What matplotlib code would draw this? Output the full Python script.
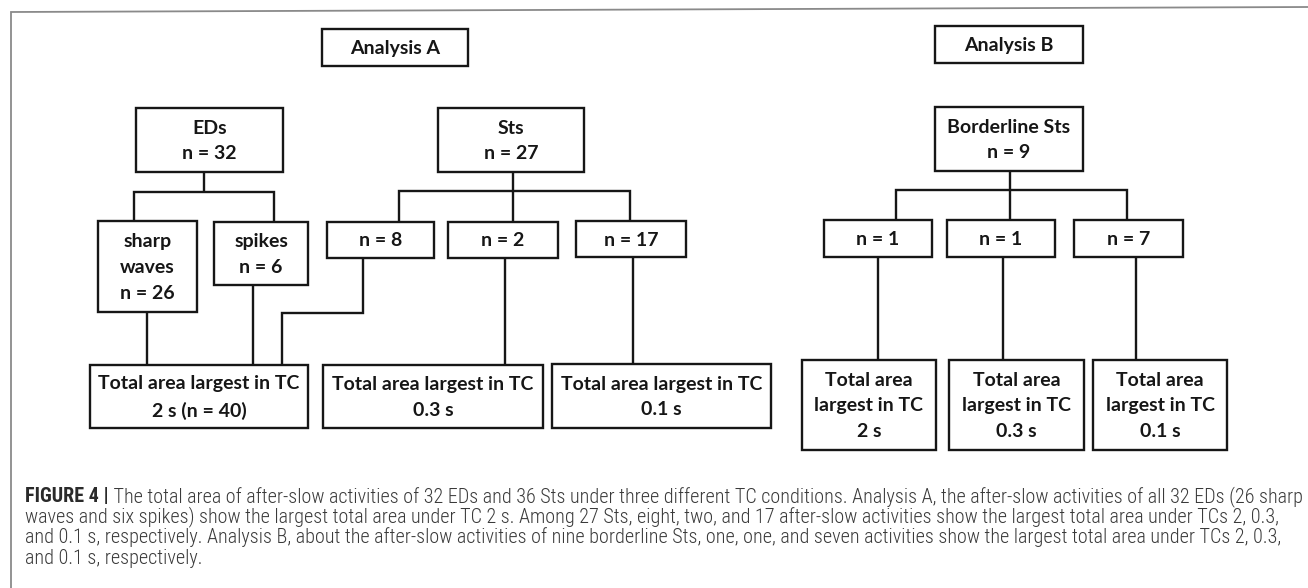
"""Diagramma di flusso: area totale delle attività after-slow (Analysis A / Analysis B)."""

import matplotlib
matplotlib.use("Agg")
import matplotlib.pyplot as plt
from matplotlib import font_manager
from matplotlib.patches import Rectangle

W, H = 1308, 588

# --- testi dei riquadri ---
titoli = ["Analysis A", "Analysis B"]
gruppi = ["EDs\nn = 32", "Sts\nn = 27", "Borderline Sts\nn = 9"]
sotto_eds = ["sharp\nwaves\nn = 26", "spikes\nn = 6"]
sotto_sts = ["n = 8", "n = 2", "n = 17"]
sotto_bord = ["n = 1", "n = 1", "n = 7"]
esiti_a = ["Total area largest in TC\n2 s (n = 40)", "Total area largest in TC\n0.3 s",
           "Total area largest in TC\n0.1 s"]
esiti_b = ["Total area\nlargest in TC\n2 s", "Total area\nlargest in TC\n0.3 s",
           "Total area\nlargest in TC\n0.1 s"]

didascalia_tag = "FIGURE 4 |"
didascalia = [
    " The total area of after-slow activities of 32 EDs and 36 Sts under three different TC "
    "conditions. Analysis A, the after-slow activities of all 32 EDs (26 sharp",
    "waves and six spikes) show the largest total area under TC 2 s. Among 27 Sts, eight, two, "
    "and 17 after-slow activities show the largest total area under TCs 2, 0.3,",
    "and 0.1 s, respectively. Analysis B, about the after-slow activities of nine borderline Sts, "
    "one, one, and seven activities show the largest total area under TCs 2, 0.3,",
    "and 0.1 s, respectively.",
]

# --- geometria (pixel, y dall'alto) ---
box_titoli = [(322, 29, 468, 66), (935, 26, 1083, 63)]
box_gruppi = [(136, 108, 283, 172), (438, 108, 584, 172), (935, 107, 1083, 171)]
box_eds = [(98, 221, 197, 312), (214, 222, 308, 285)]
box_sts = [(327, 222, 434, 258), (448, 222, 558, 258), (576, 221, 686, 257)]
box_bord = [(824, 220, 932, 257), (947, 220, 1055, 257), (1074, 220, 1183, 257)]
box_esiti_a = [(90, 365, 308, 428), (323, 365, 543, 428), (552, 364, 771, 428)]
box_esiti_b = [(802, 360, 936, 450), (949, 360, 1084, 450), (1093, 360, 1227, 450)]

connettori = [
    [(204, 172), (204, 192)], [(134, 221), (134, 192), (274, 192), (274, 222)],
    [(513, 172), (513, 191)], [(399, 222), (399, 191), (630, 191), (630, 222)], [(513, 191), (513, 222)],
    [(1010, 171), (1010, 190)], [(896, 220), (896, 190), (1127, 190), (1127, 220)], [(1010, 190), (1010, 220)],
    [(147, 312), (147, 365)], [(253, 285), (253, 365)],
    [(363, 258), (363, 313), (282, 313), (282, 365)],
    [(505, 258), (505, 365)], [(633, 257), (633, 364)],
    [(878, 257), (878, 360)], [(1003, 257), (1003, 360)], [(1136, 257), (1136, 360)],
]

INK = "#161616"
fig = plt.figure(figsize=(W / 100, H / 100), dpi=100)
ax = fig.add_axes([0, 0, 1, 1])
ax.set_xlim(0, W); ax.set_ylim(H, 0); ax.axis("off")

# cornice grigia della pagina (bordo sinistro + riga in alto, leggermente inclinata dalla scansione)
ax.plot([11, 11, W], [H, 12, 7], color="#8a8a8a", lw=1.3, solid_joinstyle="miter")


def riquadro(b, testo, fs=14):
    x0, y0, x1, y1 = b
    ax.add_patch(Rectangle((x0, y0), x1 - x0, y1 - y0, fill=False, lw=1.7, ec=INK))
    ax.text((x0 + x1) / 2, (y0 + y1) / 2 + 1, testo, ha="center", va="center", fontsize=fs,
            family=["Lato", "DejaVu Sans"], fontweight="bold", linespacing=1.63, color=INK)


for linea in connettori:
    xs, ys = zip(*linea)
    ax.plot(xs, ys, color=INK, lw=1.7, solid_joinstyle="miter", solid_capstyle="butt")

for bb, tt in [(box_titoli, titoli), (box_gruppi, gruppi), (box_eds, sotto_eds), (box_sts, sotto_sts),
               (box_bord, sotto_bord), (box_esiti_a, esiti_a), (box_esiti_b, esiti_b)]:
    for b, t in zip(bb, tt):
        riquadro(b, t)

# --- didascalia: font stretto se c'è, poi adatto la dimensione alla larghezza della prima riga ---
nomi = {f.name for f in font_manager.fontManager.ttflist}
cap_font = next((f for f in ["Liberation Sans Narrow", "DejaVu Sans Condensed", "Roboto Condensed",
                             "Roboto", "Liberation Sans"] if f in nomi), "DejaVu Sans")
X0, X1 = 25, 1295
baseline = [502, 522.5, 543, 563.5]
r = fig.canvas.get_renderer()
fs = 11
tb = ax.text(X0, baseline[0], didascalia_tag, fontsize=fs, fontweight="bold", family=cap_font,
             va="baseline", color="#2a2a2a")
tr = ax.text(X0, baseline[0], didascalia[0], fontsize=fs, family=cap_font, fontweight="light",
             va="baseline", color="#3a3a3a")
w = tb.get_window_extent(r).width + tr.get_window_extent(r).width
fs *= (X1 - X0) / w
tb.set_fontsize(fs); tr.set_fontsize(fs)
tr.set_x(X0 + tb.get_window_extent(r).width)
for y, riga in zip(baseline[1:], didascalia[1:]):
    ax.text(X0, y, riga, fontsize=fs, family=cap_font, fontweight="light", va="baseline", color="#3a3a3a")

fig.savefig("out.png", dpi=100, facecolor="white")
